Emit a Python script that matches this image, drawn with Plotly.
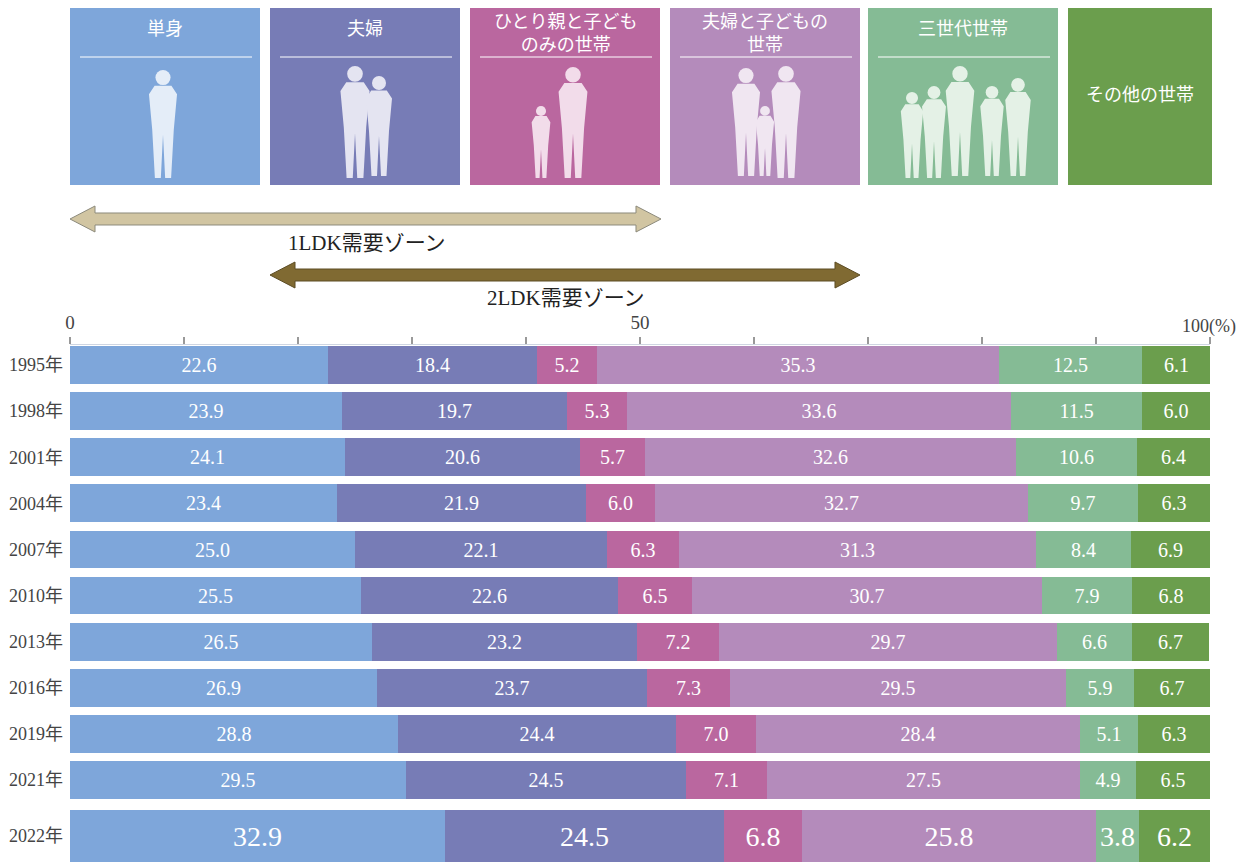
import plotly.graph_objects as go

# 世帯構成の推移 (%)
years = ['1995年', '1998年', '2001年', '2004年', '2007年', '2010年',
         '2013年', '2016年', '2019年', '2021年', '2022年']
tanshin = [22.6, 23.9, 24.1, 23.4, 25.0, 25.5, 26.5, 26.9, 28.8, 29.5, 32.9]
fufu = [18.4, 19.7, 20.6, 21.9, 22.1, 22.6, 23.2, 23.7, 24.4, 24.5, 24.5]
hitorioya = [5.2, 5.3, 5.7, 6.0, 6.3, 6.5, 7.2, 7.3, 7.0, 7.1, 6.8]
fufu_kodomo = [35.3, 33.6, 32.6, 32.7, 31.3, 30.7, 29.7, 29.5, 28.4, 27.5, 25.8]
sansedai = [12.5, 11.5, 10.6, 9.7, 8.4, 7.9, 6.6, 5.9, 5.1, 4.9, 3.8]
sonota = [6.1, 6.0, 6.4, 6.3, 6.9, 6.8, 6.7, 6.7, 6.3, 6.5, 6.2]

series = [tanshin, fufu, hitorioya, fufu_kodomo, sansedai, sonota]
names = ['単身', '夫婦', 'ひとり親と子ども<br>のみの世帯', '夫婦と子どもの<br>世帯', '三世代世帯', 'その他の世帯']
colors = ['#7ea6da', '#777cb6', '#ba679f', '#b48bbb', '#85bb95', '#6b9e4d']
tints = ['#e4edf8', '#e4e4f1', '#f2dcea', '#f0e6f1', '#e4f1e6', None]

SERIF = "Liberation Serif, 'Noto Sans CJK JP'"
SANS = "'Noto Sans CJK JP', 'Noto Sans'"

# the page body adds an 8px margin, so the figure is 8px smaller
# and all pixel positions below are in window coordinates
OFF = 8
W, H = 1244 - OFF, 862 - OFF
L, R, T, B = 70 - OFF, 34, 345 - OFF, 0
PW, PH = W - L - R, H - T - B


def px(x):
    return (x - 70) / PW


def py(y):
    return (862 - y) / PH


# row positions (2022 is a taller, separated bar)
ypos = [i for i in range(10)] + [10.22]
widths = [0.82] * 10 + [1.13]
tsize = [20] * 10 + [28]

fig = go.Figure()
for vals, name, c in zip(series, names, colors):
    fig.add_trace(go.Bar(
        y=ypos, x=vals, orientation='h', width=widths,
        name=name, marker=dict(color=c, line=dict(width=0)),
        text=[f'{v:.1f}' for v in vals], textposition='inside',
        insidetextanchor='middle', constraintext='none',
        textfont=dict(color='white', size=tsize, family=SERIF),
        hoverinfo='skip', showlegend=False))

shapes = []
annotations = []


def label(x, y, text, size, color, family):
    annotations.append(dict(xref='paper', yref='paper', x=px(x), y=py(y),
                            xanchor='center', yanchor='middle',
                            text=text, showarrow=False,
                            font=dict(color=color, size=size, family=family)))


# category boxes on top
boxes = [(70, 260), (270, 460), (470, 660), (670, 860), (868, 1058), (1068, 1212)]
for (x0, x1), name, c in zip(boxes, names, colors):
    shapes.append(dict(type='rect', xref='paper', yref='paper',
                       x0=px(x0), x1=px(x1), y0=py(185), y1=py(0),
                       fillcolor=c, line=dict(width=0), layer='above'))
    if name == 'その他の世帯':
        label((x0 + x1) / 2, 93, name, 18, 'white', SANS)
        continue
    label((x0 + x1) / 2, 31 if '<br>' in name else 27, name, 18, 'white', SANS)
    shapes.append(dict(type='line', xref='paper', yref='paper',
                       x0=px(x0 + 10), x1=px(x1 - 8), y0=py(57), y1=py(57),
                       line=dict(color='white', width=1)))


def person(cx, top, h, color):
    r = h * 0.07
    shapes.append(dict(type='circle', xref='paper', yref='paper',
                       x0=px(cx - r), x1=px(cx + r), y0=py(top + 2 * r), y1=py(top),
                       fillcolor=color, line=dict(width=0)))
    sw, hw, gap = h * 0.13, h * 0.10, h * 0.02
    ys, yh, yb = top + 2.2 * r, top + h * 0.55, top + h
    pts = [(cx - sw * 0.6, ys - 1), (cx - sw, ys + r), (cx - hw, yh),
           (cx - hw * 0.75, yb), (cx - gap, yb), (cx, yh + h * 0.05),
           (cx + gap, yb), (cx + hw * 0.75, yb), (cx + hw, yh),
           (cx + sw, ys + r), (cx + sw * 0.6, ys - 1)]
    path = 'M ' + ' L '.join(f'{px(a):.5f},{py(b):.5f}' for a, b in pts) + ' Z'
    shapes.append(dict(type='path', xref='paper', yref='paper', path=path,
                       fillcolor=color, line=dict(width=0)))


people = [
    [(163, 70, 108)],
    [(355, 66, 112), (379, 76, 100)],
    [(573, 67, 111), (541, 106, 72)],
    [(746, 68, 108), (765, 106, 70), (786, 66, 112)],
    [(912, 92, 86), (934, 86, 92), (960, 66, 110), (992, 86, 90), (1018, 78, 98)],
]
for group, tint in zip(people, tints):
    for cx, top, h in group:
        person(cx, top, h, tint)


def arrow(x0, x1, yc, fill, edge):
    s, hh, hl = 6, 13, 25
    pts = [(x0, yc), (x0 + hl, yc - hh), (x0 + hl, yc - s), (x1 - hl, yc - s),
           (x1 - hl, yc - hh), (x1, yc), (x1 - hl, yc + hh), (x1 - hl, yc + s),
           (x0 + hl, yc + s), (x0 + hl, yc + hh)]
    path = 'M ' + ' L '.join(f'{px(a):.5f},{py(b):.5f}' for a, b in pts) + ' Z'
    shapes.append(dict(type='path', xref='paper', yref='paper', path=path,
                       fillcolor=fill, line=dict(color=edge, width=1)))


arrow(70, 661, 219, '#d1c5a2', '#8c8a7c')
arrow(270, 860, 275, '#806a32', '#5c4c24')
label(367, 243, '1LDK需要ゾーン', 21, '#222', SERIF)
label(566, 298, '2LDK需要ゾーン', 21, '#222', SERIF)

# "100(%)" sits right of the 100 tick
annotations.append(dict(xref='paper', yref='paper', x=px(1180), y=py(327),
                        xanchor='left', yanchor='middle', text='100(%)',
                        showarrow=False,
                        font=dict(color='#444', size=18, family=SERIF)))

fig.update_layout(
    width=W, height=H, margin=dict(l=L, r=R, t=T, b=B),
    plot_bgcolor='white', paper_bgcolor='white',
    barmode='stack', bargap=0,
    shapes=shapes, annotations=annotations,
    xaxis=dict(side='top', range=[0, 100], tickvals=list(range(0, 101, 10)),
               ticktext=['0', '', '', '', '', '50', '', '', '', '', ''],
               ticks='outside', ticklen=7, tickwidth=2, tickcolor='#999',
               showline=True, linecolor='#cfd6e2', linewidth=1,
               showgrid=False, zeroline=False, automargin=False,
               tickfont=dict(size=19, color='#444', family=SERIF)),
    yaxis=dict(range=[10.78, -0.434], tickvals=ypos, ticktext=years,
               showgrid=False, zeroline=False, showline=False, ticks='',
               ticklabelstandoff=6, automargin=False,
               tickfont=dict(size=18, color='#444', family=SERIF)),
)

fig.write_html("out.html")
